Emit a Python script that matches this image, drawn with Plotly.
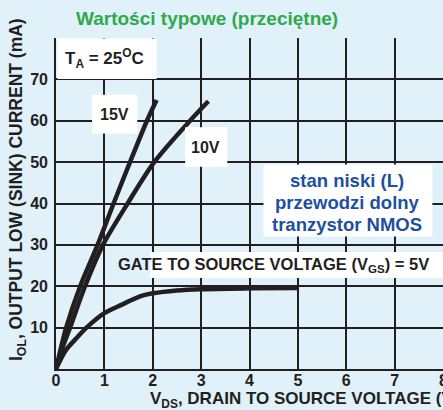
import plotly.graph_objects as go

# ---- data ----
vds_15 = [0, 0.1, 0.21, 0.5, 0.86, 1.19, 1.53, 1.88, 2.08]
iol_15 = [0, 5, 10, 20, 30, 40, 50, 60, 65]

vds_10 = [0, 0.13, 0.29, 0.6, 0.97, 1.48, 2.03, 2.77, 3.15]
iol_10 = [0, 5, 10, 20, 30, 40, 50, 60, 64.7]

vds_5 = [0, 0.2, 0.45, 0.63, 1.0, 1.35, 1.75, 2.0, 2.5, 3.0, 4.0, 5.0]
iol_5 = [0, 4.5, 7.8, 10, 13.5, 15.5, 17.6, 18.3, 19.0, 19.3, 19.5, 19.6]

x_ticks = [0, 1, 2, 3, 4, 5, 6, 7, 8]
y_ticks = [0, 10, 20, 30, 40, 50, 60, 70, 80]
y_ticklabels = ["", "10", "20", "30", "40", "50", "60", "70", ""]

BG = "#e0f1fa"
INK = "#231f20"
FONT = "Liberation Sans"

fig = go.Figure()
for xs, ys in [(vds_5, iol_5), (vds_10, iol_10), (vds_15, iol_15)]:
    fig.add_trace(go.Scatter(x=xs, y=ys, mode="lines",
                             line=dict(color=INK, width=4.5, shape="spline", smoothing=0.8),
                             hoverinfo="skip", showlegend=False))

W, H = 443, 410
L, T, B, R = 56, 38, 41, 0
pw, ph = W - L - R, H - T - B


def px(xp):
    return (xp - L) / pw


def py(yp):
    return (H - B - yp) / ph


fig.update_layout(
    width=W, height=H,
    margin=dict(l=L, r=R, t=T, b=B, autoexpand=False),
    paper_bgcolor=BG, plot_bgcolor=BG,
    font=dict(family=FONT, color=INK, size=15),
    showlegend=False,
)
fig.update_xaxes(range=[0, 8], tickvals=x_ticks, ticktext=[str(v) for v in x_ticks],
                 showgrid=True, gridcolor=INK, gridwidth=1.6,
                 showline=True, linecolor=INK, linewidth=1.6, zeroline=False,
                 ticks="", ticklabelstandoff=-4,
                 tickfont=dict(family=FONT, size=16, weight="bold", color=INK),
                 automargin=False)
fig.update_yaxes(range=[0, 80], tickvals=y_ticks, ticktext=y_ticklabels,
                 showgrid=True, gridcolor=INK, gridwidth=1.6,
                 showline=True, linecolor=INK, linewidth=1.6, zeroline=False,
                 ticks="", ticklabelstandoff=3,
                 tickfont=dict(family=FONT, size=16, weight="bold", color=INK),
                 automargin=False)

white = dict(type="rect", fillcolor="white", line=dict(width=0), layer="above")
shapes = [
    dict(white, xref="x", yref="y", x0=0.03, x1=2.08, y0=70.1, y1=79.9),
    dict(white, xref="x", yref="y", x0=0.745, x1=1.68, y0=56.9, y1=66.3),
    dict(white, xref="x", yref="y", x0=2.67, x1=3.54, y0=48.9, y1=58.4),
    dict(white, xref="x", yref="y", x0=4.29, x1=7.78, y0=32.0, y1=49.4),
    dict(white, xref="x", yref="y", x0=1.95, x1=8.0, y0=22.0, y1=28.3),
]
fig.update_layout(shapes=shapes)

bold = dict(family=FONT, color=INK, weight="bold")
blue = dict(family=FONT, size=18.5, color="#1d50a0", weight="bold")
ann = [
    dict(x=px(207), y=py(19), xref="paper", yref="paper",
         text="Wartości typowe (przeciętne)",
         font=dict(family=FONT, size=19, color="#2eaa4a", weight="bold")),
    dict(x=1.0, y=75, xref="x", yref="y", text="T<sub>A</sub> = 25<sup>O</sup>C",
         font=dict(bold, size=17)),
    dict(x=1.21, y=61.6, xref="x", yref="y", text="15V", font=dict(bold, size=16)),
    dict(x=3.1, y=53.6, xref="x", yref="y", text="10V", font=dict(bold, size=16)),
    dict(x=6.02, y=45.5, xref="x", yref="y", text="stan niski (L)", font=blue),
    dict(x=6.02, y=40.3, xref="x", yref="y", text="przewodzi dolny", font=blue),
    dict(x=6.02, y=35.0, xref="x", yref="y", text="tranzystor NMOS", font=blue),
    dict(x=px(116), y=25.2, xref="paper", yref="y", xanchor="left",
         text="GATE TO SOURCE VOLTAGE (V<sub>GS</sub>) = 5V", font=dict(bold, size=16.5)),
    dict(x=8, y=py(380), xref="x", yref="paper", text="8",
         font=dict(bold, size=16)),
    dict(x=px(148), y=py(400), xref="paper", yref="paper", xanchor="left",
         text="V<sub>DS</sub>, DRAIN TO SOURCE VOLTAGE (V)", font=dict(bold, size=17)),
    dict(x=px(18), y=py(190), xref="paper", yref="paper", textangle=-90,
         text="I<sub>OL</sub>, OUTPUT LOW (SINK) CURRENT (mA)", font=dict(bold, size=17.5)),
]
for a in ann:
    a.setdefault("showarrow", False)
    a.setdefault("xanchor", "center")
    a.setdefault("yanchor", "middle")
fig.update_layout(annotations=ann)

fig.write_html("out.html", config={"displayModeBar": False},
               post_script="document.body.style.margin='0';document.body.style.padding='0';")
